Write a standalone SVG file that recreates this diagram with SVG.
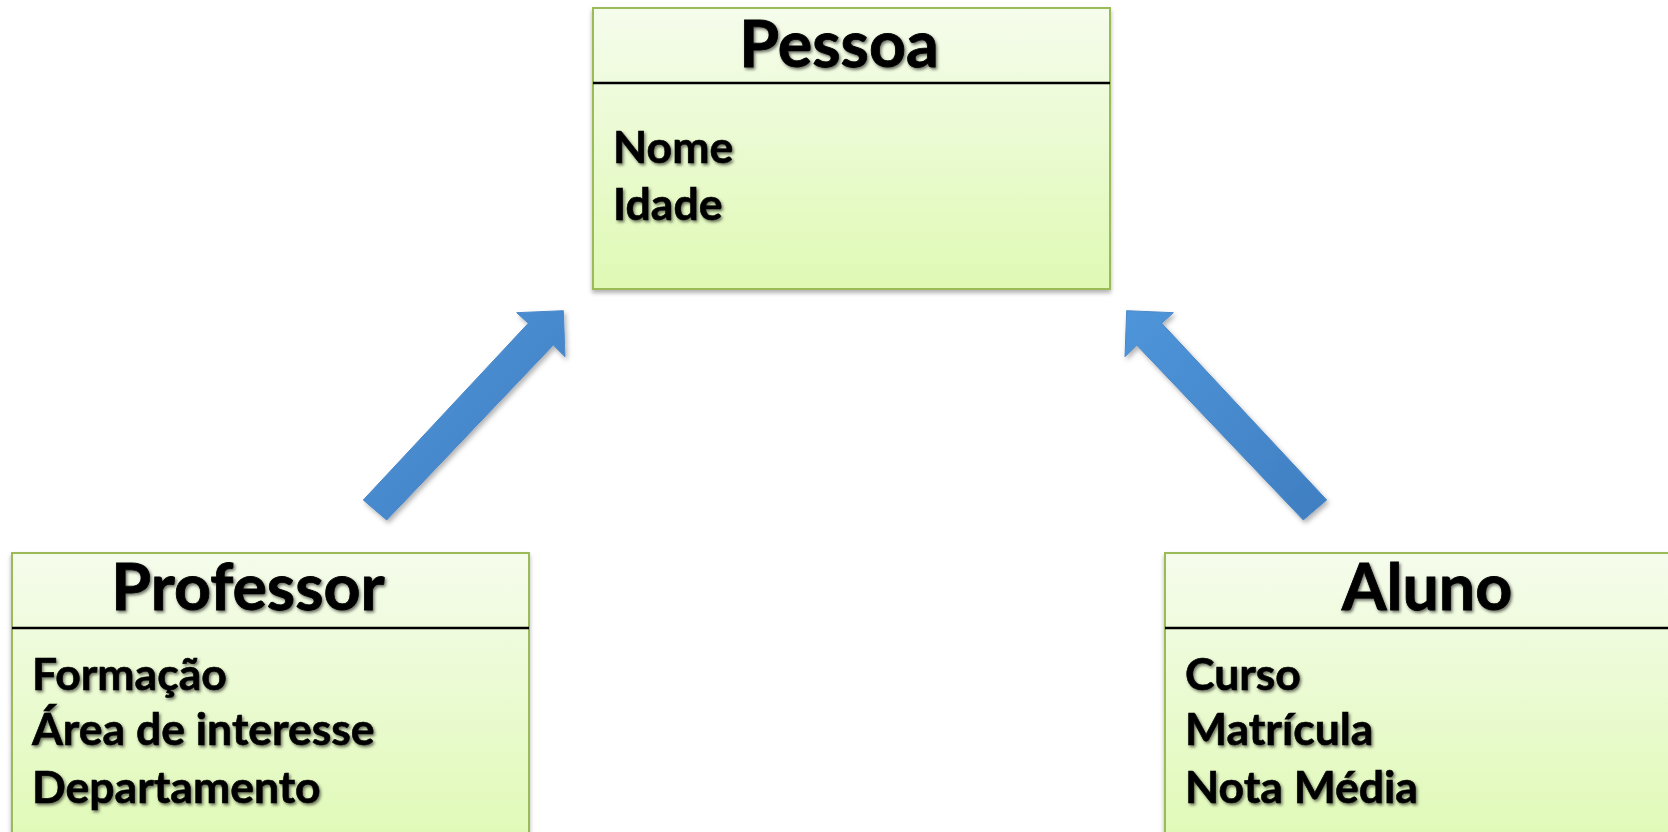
<svg xmlns="http://www.w3.org/2000/svg" width="1668" height="832" viewBox="0 0 1668 832">
  <defs>
    <linearGradient id="boxFill" x1="0" y1="0" x2="0" y2="1">
      <stop offset="0" stop-color="#f5fcec"/>
      <stop offset="1" stop-color="#dff9b4"/>
    </linearGradient>
    <linearGradient id="arrowFill" x1="0" y1="0" x2="1" y2="1">
      <stop offset="0" stop-color="#4f95da"/>
      <stop offset="1" stop-color="#3f7ec1"/>
    </linearGradient>
    <filter id="boxShadow" x="-5%" y="-5%" width="115%" height="120%">
      <feDropShadow dx="0" dy="3" stdDeviation="2" flood-color="#000" flood-opacity="0.3"/>
    </filter>
    <filter id="arrowShadow" x="-20%" y="-20%" width="140%" height="140%">
      <feDropShadow dx="2" dy="3" stdDeviation="2.5" flood-color="#000" flood-opacity="0.3"/>
    </filter>
    <filter id="textShadow" x="-10%" y="-20%" width="120%" height="150%">
      <feDropShadow dx="1.5" dy="2" stdDeviation="1.4" flood-color="#000" flood-opacity="0.55"/>
    </filter>
  </defs>
  <style>
    .box { fill: url(#boxFill); stroke: #9bbb59; stroke-width: 2; filter: url(#boxShadow); }
    .div { stroke: #000; stroke-width: 2.5; }
    .title { font-family: Lato, "Liberation Sans", sans-serif; font-weight: bold; font-size: 64.5px; fill: #000; stroke: #000; stroke-width: 0.8; filter: url(#textShadow); }
    .attr { font-family: Lato, "Liberation Sans", sans-serif; font-weight: bold; font-size: 44.5px; fill: #000; stroke: #000; stroke-width: 0.6; filter: url(#textShadow); }
    .arrow { fill: url(#arrowFill); stroke: #4a88c9; stroke-width: 1; filter: url(#arrowShadow); }
  </style>
  <rect width="1668" height="832" fill="#fff"/>

  <g id="connectors">
    <path class="arrow" d="M363.3,500 L528.3,323.3 L516.7,312.7 L563.3,310.7 L565,356.7 L553.3,345 L386.7,520 Z"/>
    <path class="arrow" d="M1326.7,500 L1161.7,323.3 L1173.3,312.7 L1126.7,310.7 L1125,356.7 L1136.7,345 L1303.3,520 Z"/>
  </g>

  <g id="pessoa">
    <rect class="box" x="593" y="8" width="517" height="281"/>
    <line class="div" x1="593" y1="83" x2="1110" y2="83"/>
    <text class="title" x="839" y="67" text-anchor="middle">Pessoa</text>
    <text class="attr" x="613" y="163">Nome</text>
    <text class="attr" x="613" y="220">Idade</text>
  </g>

  <g id="professor">
    <rect class="box" x="12" y="553" width="517" height="300"/>
    <line class="div" x1="12" y1="628" x2="529" y2="628"/>
    <text class="title" x="248" y="610" text-anchor="middle">Professor</text>
    <text class="attr" x="32" y="690">Formação</text>
    <text class="attr" x="32" y="745">Área de interesse</text>
    <text class="attr" x="32" y="803">Departamento</text>
  </g>

  <g id="aluno">
    <rect class="box" x="1165" y="553" width="520" height="300"/>
    <line class="div" x1="1165" y1="628" x2="1685" y2="628"/>
    <text class="title" x="1427" y="610" text-anchor="middle">Aluno</text>
    <text class="attr" x="1185" y="690">Curso</text>
    <text class="attr" x="1185" y="745">Matrícula</text>
    <text class="attr" x="1185" y="803">Nota Média</text>
  </g>
</svg>
